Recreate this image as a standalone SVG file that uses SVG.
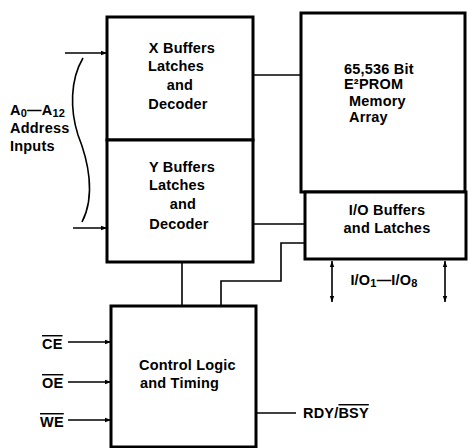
<svg xmlns="http://www.w3.org/2000/svg" width="468" height="448" viewBox="0 0 468 448">
<defs>
<style>
.box{fill:#fff;stroke:#000;stroke-width:3}
.ln{fill:none;stroke:#000;stroke-width:1.6}
.t{font-family:"Liberation Sans",Arial,sans-serif;font-weight:bold;font-size:14.5px;letter-spacing:0.2px;fill:#000}
.s{font-size:11px}
</style>
<marker id="ah" viewBox="0 0 6 6" refX="6" refY="3" markerWidth="6" markerHeight="6" markerUnits="userSpaceOnUse" orient="auto-start-reverse">
<path d="M0,0.8 L6,3 L0,5.2 Z" fill="#000"/>
</marker>
</defs>
<rect width="468" height="448" fill="#fff"/>

<g id="connectors">
<line class="ln" x1="65" y1="53" x2="107" y2="53" marker-end="url(#ah)"/>
<line class="ln" x1="73" y1="228" x2="107" y2="228" marker-end="url(#ah)"/>
<path class="ln" d="M83,58 C70,80 70,110 78,135 C88,160 96,195 82,222"/>
<line class="ln" x1="253" y1="75" x2="301" y2="75"/>
<line class="ln" x1="253" y1="224" x2="305" y2="224"/>
<polyline class="ln" points="305,243 281,243 281,281 221,281 221,306"/>
<line class="ln" x1="182" y1="262" x2="182" y2="306"/>
<line class="ln" x1="68" y1="342" x2="111" y2="342" marker-end="url(#ah)"/>
<line class="ln" x1="68" y1="382" x2="111" y2="382" marker-end="url(#ah)"/>
<line class="ln" x1="68" y1="420" x2="111" y2="420" marker-end="url(#ah)"/>
<line class="ln" x1="256" y1="413" x2="296" y2="413"/>
<line class="ln" x1="332" y1="261" x2="332" y2="302" marker-start="url(#ah)" marker-end="url(#ah)"/>
<line class="ln" x1="445" y1="261" x2="445" y2="302" marker-start="url(#ah)" marker-end="url(#ah)"/>
</g>

<g id="x-buffers">
<rect class="box" x="107" y="17" width="146" height="123"/>
<text class="t" x="182" y="53" text-anchor="middle">X Buffers</text>
<text class="t" x="176" y="71" text-anchor="middle">Latches</text>
<text class="t" x="180" y="90" text-anchor="middle">and</text>
<text class="t" x="178" y="109" text-anchor="middle">Decoder</text>
</g>

<g id="y-buffers">
<rect class="box" x="107" y="140" width="146" height="122"/>
<text class="t" x="182" y="172" text-anchor="middle">Y Buffers</text>
<text class="t" x="177" y="190" text-anchor="middle">Latches</text>
<text class="t" x="183" y="209" text-anchor="middle">and</text>
<text class="t" x="179" y="229" text-anchor="middle">Decoder</text>
</g>

<g id="memory-array">
<rect class="box" x="301" y="13" width="164" height="179"/>
<text class="t" x="344" y="74">65,536 Bit</text>
<text class="t" x="344" y="89">E²PROM</text>
<text class="t" x="349" y="106">Memory</text>
<text class="t" x="349" y="122">Array</text>
</g>

<g id="io-buffers">
<rect class="box" x="305" y="192" width="161" height="67"/>
<text class="t" x="387" y="215" text-anchor="middle">I/O Buffers</text>
<text class="t" x="387" y="233" text-anchor="middle">and Latches</text>
</g>

<g id="io-label">
<text class="t" x="384" y="285" text-anchor="middle">I/O<tspan class="s" dy="2">1</tspan><tspan dy="-2">—I/O</tspan><tspan class="s" dy="2">8</tspan></text>
</g>

<g id="address-label">
<text class="t" x="10" y="115">A<tspan class="s" dy="2">0</tspan><tspan dy="-2">—A</tspan><tspan class="s" dy="2">12</tspan></text>
<text class="t" x="10" y="133">Address</text>
<text class="t" x="10" y="151">Inputs</text>
</g>

<g id="control-logic">
<rect class="box" x="111" y="306" width="145" height="141"/>
<text class="t" x="139" y="370">Control Logic</text>
<text class="t" x="140" y="388">and Timing</text>
</g>

<g id="signals">
<text class="t" x="42" y="349" text-decoration="overline">CE</text>
<text class="t" x="42" y="388" text-decoration="overline">OE</text>
<text class="t" x="40" y="427" text-decoration="overline">WE</text>
<text class="t" x="303" y="418">RDY/<tspan text-decoration="overline">BSY</tspan></text>
</g>
</svg>
